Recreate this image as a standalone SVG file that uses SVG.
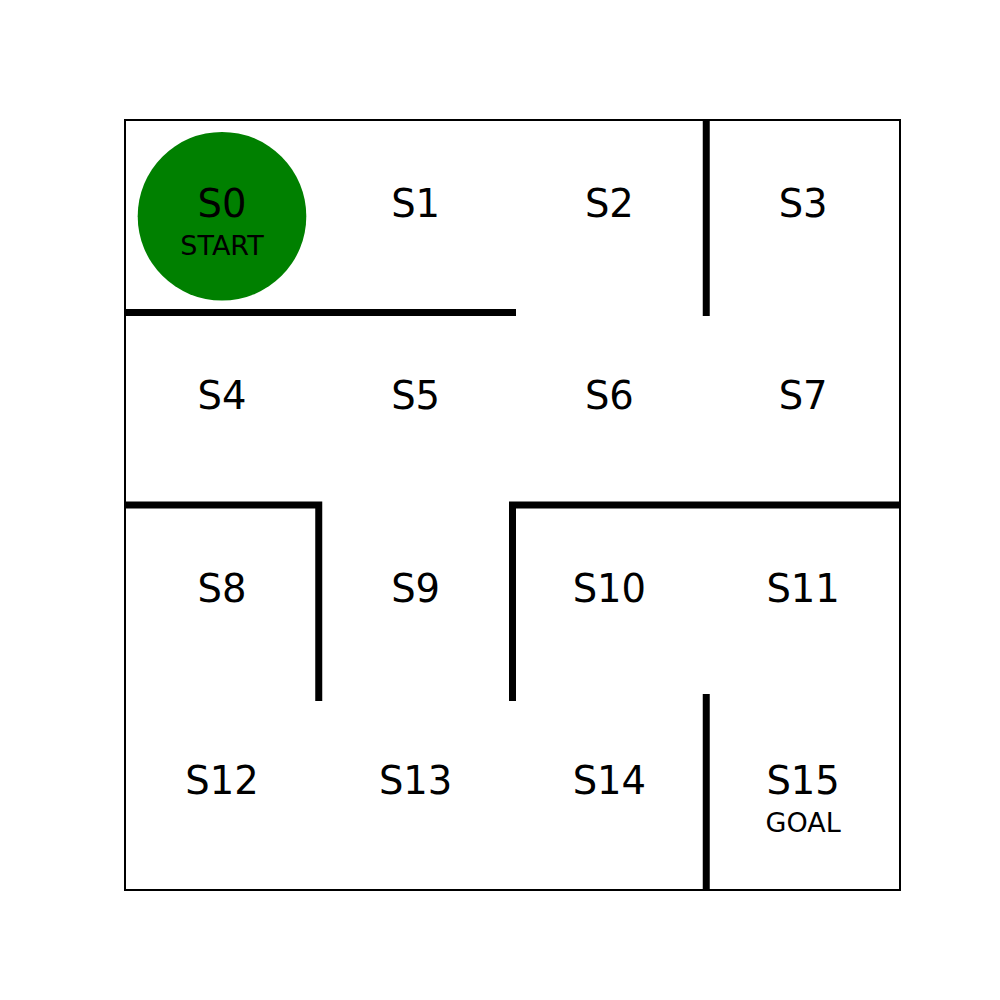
<svg xmlns="http://www.w3.org/2000/svg" width="1000" height="1000" viewBox="0 0 1000 1000">
<defs><clipPath id="axes"><rect x="125" y="120" width="775" height="770"/></clipPath></defs>
<style>
.wall{stroke:#000;stroke-width:7;stroke-linecap:square;fill:none}
.big{font-family:"DejaVu Sans",sans-serif;font-size:38.5px;text-anchor:middle;fill:#000}
.small{font-family:"DejaVu Sans",sans-serif;font-size:27px;text-anchor:middle;fill:#000}
</style>
<rect width="1000" height="1000" fill="#fff"/>
<g id="start-marker"><circle cx="222" cy="216.25" r="84.3" fill="#008000"/></g>
<g id="walls" clip-path="url(#axes)">
<line class="wall" x1="125" y1="312.5" x2="512.5" y2="312.5"/>
<line class="wall" x1="706.25" y1="120" x2="706.25" y2="312.5"/>
<polyline class="wall" points="125,505 318.75,505 318.75,697.5"/>
<polyline class="wall" points="512.5,697.5 512.5,505 900,505"/>
<line class="wall" x1="706.25" y1="697.5" x2="706.25" y2="890"/>
</g>
<g id="frame"><rect x="125" y="120" width="775" height="770" fill="none" stroke="#000" stroke-width="2"/></g>
<g id="S0"><text class="big" x="222" y="217">S0</text><text class="small" x="222" y="254.5">START</text></g>
<g id="S1"><text class="big" x="415.6" y="217">S1</text></g>
<g id="S2"><text class="big" x="609.4" y="217">S2</text></g>
<g id="S3"><text class="big" x="803.1" y="217">S3</text></g>
<g id="S4"><text class="big" x="222" y="409">S4</text></g>
<g id="S5"><text class="big" x="415.6" y="409">S5</text></g>
<g id="S6"><text class="big" x="609.4" y="409">S6</text></g>
<g id="S7"><text class="big" x="803.1" y="409">S7</text></g>
<g id="S8"><text class="big" x="222" y="601.5">S8</text></g>
<g id="S9"><text class="big" x="415.6" y="601.5">S9</text></g>
<g id="S10"><text class="big" x="609.4" y="601.5">S10</text></g>
<g id="S11"><text class="big" x="803.1" y="601.5">S11</text></g>
<g id="S12"><text class="big" x="222" y="794">S12</text></g>
<g id="S13"><text class="big" x="415.6" y="794">S13</text></g>
<g id="S14"><text class="big" x="609.4" y="794">S14</text></g>
<g id="S15"><text class="big" x="803.1" y="794">S15</text><text class="small" x="803.1" y="832">GOAL</text></g>
</svg>
